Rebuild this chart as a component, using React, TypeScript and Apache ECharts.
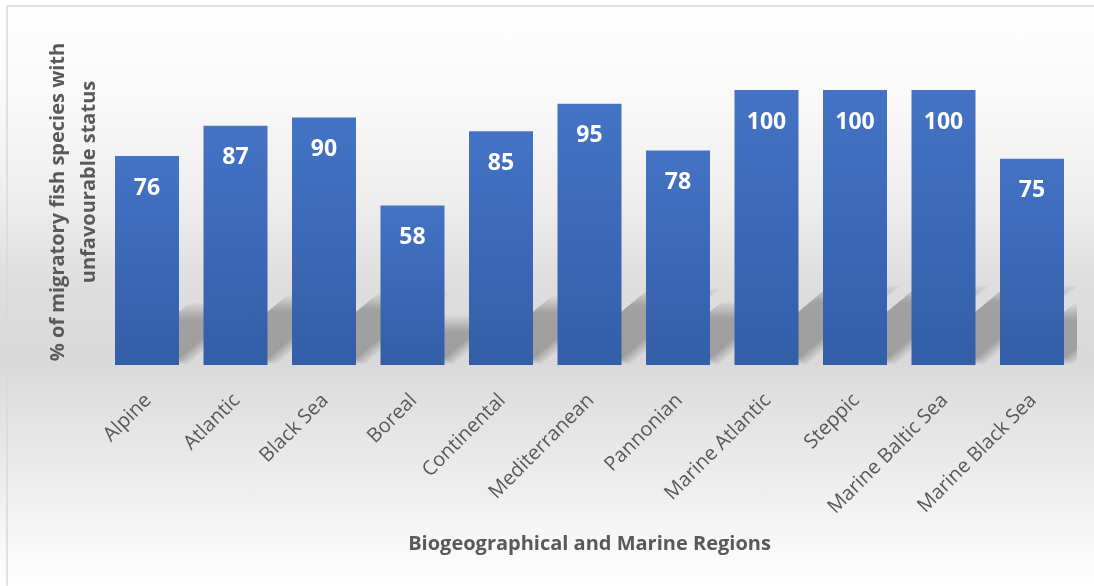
import React, { useEffect, useRef } from "react";
import * as echarts from "echarts";

// Share of migratory fish species with unfavourable conservation status, by region
const regions = [
  "Alpine",
  "Atlantic",
  "Black Sea",
  "Boreal",
  "Continental",
  "Mediterranean",
  "Pannonian",
  "Marine Atlantic",
  "Steppic",
  "Marine Baltic Sea",
  "Marine Black Sea",
];
const unfavourablePct = [76, 87, 90, 58, 85, 95, 78, 100, 100, 100, 75];
const yAxisTitleLines = ["% of migratory fish species with", "unfavourable status"];
const xAxisTitle = "Biogeographical and Marine Regions";

const FONT = "'Open Sans', 'Noto Sans', sans-serif";
const TEXT_GREY = "#595959";
const BAR_RATIO = 64 / 88.5;

export default function App() {
  const ref = useRef<HTMLDivElement>(null);

  useEffect(() => {
    const chart = echarts.init(ref.current!, null, { renderer: "svg" });

    const bgGradient = new echarts.graphic.LinearGradient(0, 0, 0, 1, [
      { offset: 0, color: "#ffffff" },
      { offset: 0.15, color: "#fafafa" },
      { offset: 0.34, color: "#eeeeee" },
      { offset: 0.48, color: "#dedede" },
      { offset: 0.62, color: "#d9d9d9" },
      { offset: 0.67, color: "#dfdfdf" },
      { offset: 0.82, color: "#ededed" },
      { offset: 0.93, color: "#f8f8f8" },
      { offset: 1, color: "#ffffff" },
    ]);

    const barGradient = new echarts.graphic.LinearGradient(0, 0, 0, 1, [
      { offset: 0, color: "#4473c5" },
      { offset: 1, color: "#335ea8" },
    ]);

    // Soft perspective shadow cast by each bar up and to the right;
    // stacked translucent layers stand in for a blur.
    const renderShadow = (params: any, api: any) => {
      const idx = api.value(0);
      const val = api.value(1);
      const base = api.coord([idx, 0]);
      const top = api.coord([idx, val]);
      const half = (api.size([1, 0])[0] * BAR_RATIO) / 2;
      const x0 = base[0] - half;
      const x1 = base[0] + half;
      const b = base[1];
      const h = (b - top[1]) * 0.26;
      const skew = 1.2;
      const layers = 12;
      const spread = 8;
      const step = 1.5;
      const children: any[] = [];
      for (let k = 0; k < layers; k++) {
        const grow = spread - k * step;
        const hh = h + grow;
        const bot = b - 1 - k * 0.6;
        const rx = x1 + grow;
        const topY = b - hh;
        children.push({
          type: "polygon",
          shape: {
            points: [
              [x0 + skew * (b - bot), bot],
              [rx + skew * (b - bot), bot],
              [rx + skew * hh, topY],
              [x0 + skew * hh, topY],
            ],
          },
          style: { fill: "rgba(0,0,0,0.022)" },
        });
      }
      return { type: "group", children };
    };

    chart.setOption({
      animation: false,
      graphic: [
        {
          type: "rect",
          z: -10,
          silent: true,
          shape: { x: 0, y: 0, width: 1094, height: 586 },
          style: { fill: bgGradient },
        },
        {
          type: "rect",
          z: -9,
          silent: true,
          shape: { x: 7, y: 6, width: 1200, height: 700 },
          style: { fill: "none", stroke: "#d9d9d9", lineWidth: 1.5 },
        },
        {
          type: "text",
          x: 56,
          y: 202,
          rotation: Math.PI / 2,
          style: {
            text: yAxisTitleLines[0],
            font: `bold 20px ${FONT}`,
            fill: TEXT_GREY,
            align: "center",
            verticalAlign: "middle",
          },
        },
        {
          type: "text",
          x: 87,
          y: 182,
          rotation: Math.PI / 2,
          style: {
            text: yAxisTitleLines[1],
            font: `bold 20px ${FONT}`,
            fill: TEXT_GREY,
            align: "center",
            verticalAlign: "middle",
          },
        },
      ],
      grid: { left: 102.75, right: 17.75, top: 90, bottom: 221 },
      xAxis: {
        type: "category",
        data: regions,
        axisLine: { show: false },
        axisTick: { show: false },
        axisLabel: {
          interval: 0,
          rotate: 45,
          fontSize: 20,
          color: TEXT_GREY,
          fontFamily: FONT,
          margin: 31,
        },
        name: xAxisTitle,
        nameLocation: "middle",
        nameGap: 167,
        nameTextStyle: {
          fontSize: 20,
          fontWeight: "bold",
          color: TEXT_GREY,
          fontFamily: FONT,
        },
      },
      yAxis: { type: "value", min: 0, max: 100, show: false },
      series: [
        {
          type: "custom",
          z: 1,
          clip: true,
          silent: true,
          data: unfavourablePct.map((v, i) => [i, v]),
          renderItem: renderShadow,
        },
        {
          type: "bar",
          z: 2,
          data: unfavourablePct,
          barWidth: `${BAR_RATIO * 100}%`,
          itemStyle: { color: barGradient },
          label: {
            show: true,
            position: "insideTop",
            distance: 18,
            fontSize: 23,
            fontWeight: "bold",
            color: "#ffffff",
            fontFamily: FONT,
          },
        },
      ],
    });

    return () => chart.dispose();
  }, []);

  return (
    <div
      ref={ref}
      style={{ position: "fixed", left: 0, top: 0, width: 1094, height: 586 }}
    />
  );
}
